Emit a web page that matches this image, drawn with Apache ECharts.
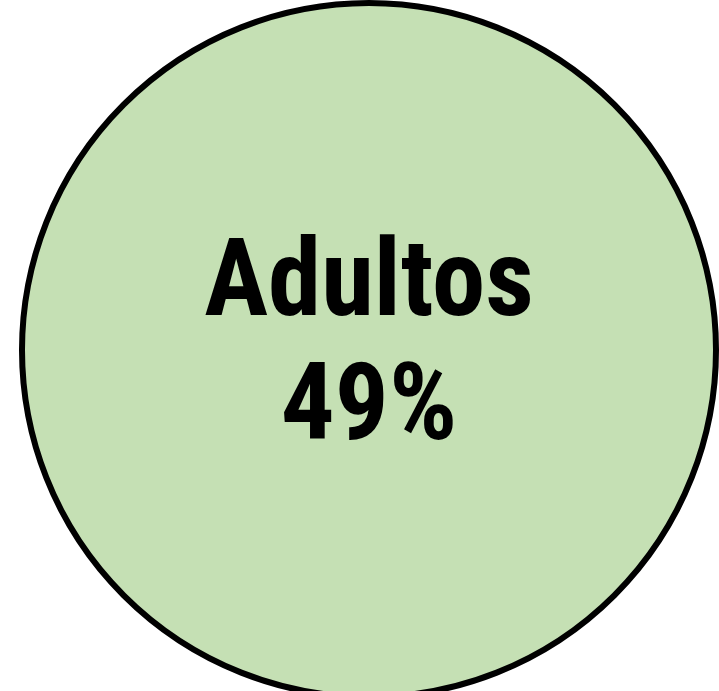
<!DOCTYPE html>
<html>
<head>
<meta charset="utf-8">
<style>html,body{margin:0;padding:0;background:#fff;}#c{width:719px;height:691px;}</style>
<script src="https://cdn.jsdelivr.net/npm/echarts@6/dist/echarts.min.js"></script>
</head>
<body>
<div id="c"></div>
<script>
const categories = ['Adultos'];
const percentValues = [49];

const chart = echarts.init(document.getElementById('c'), null, {renderer: 'canvas'});
chart.setOption({
  animation: false,
  series: [{
    type: 'pie',
    center: [369, 350],
    radius: [0, 347],
    silent: true,
    itemStyle: {color: '#C5E0B4', borderColor: '#000', borderWidth: 6},
    label: {
      show: true,
      position: 'center',
      formatter: p => p.name + '\n' + p.value + '%',
      fontFamily: '"Liberation Sans Narrow", "Arial Narrow", "Roboto Condensed", sans-serif',
      fontWeight: 'bold',
      fontSize: 107,
      lineHeight: 124,
      color: '#000'
    },
    labelLine: {show: false},
    data: categories.map((c, i) => ({name: c, value: percentValues[i]}))
  }]
});
</script>
</body>
</html>
